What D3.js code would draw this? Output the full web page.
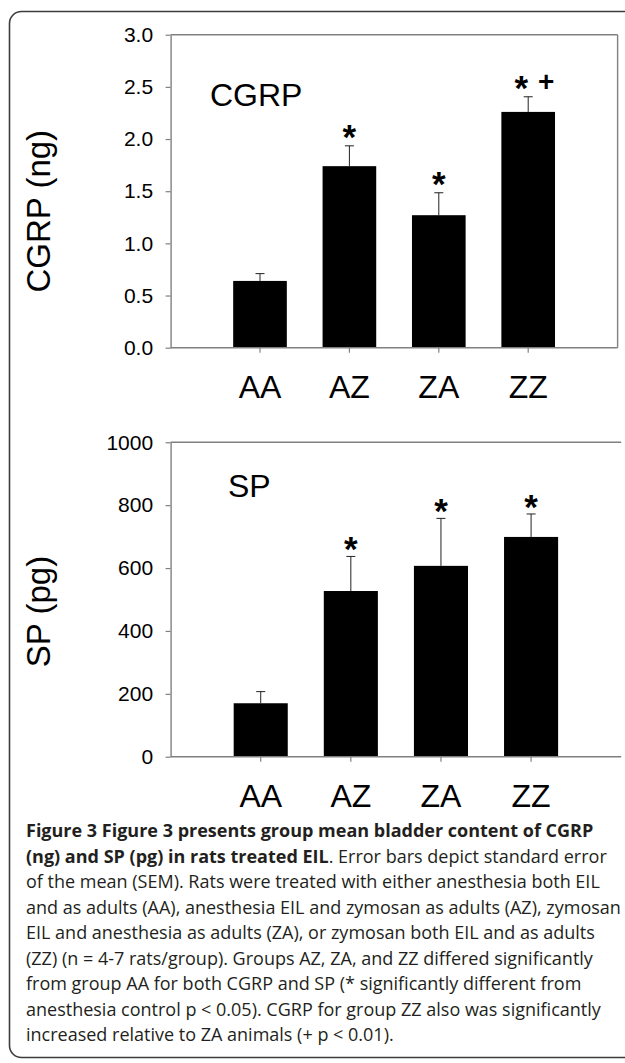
<!DOCTYPE html>
<html>
<head>
<meta charset="utf-8">
<script src="https://cdn.jsdelivr.net/npm/d3@7"></script>
<style>
  html, body { margin: 0; padding: 0; background: #fff; }
  svg { display: block; }
</style>
</head>
<body>
<svg id="chart" width="625" height="1063"></svg>
<script>
// ---------- data ----------
const groups = ["AA", "AZ", "ZA", "ZZ"];
const cgrpMean = [0.64, 1.74, 1.27, 2.26];
const cgrpSem = [0.07, 0.195, 0.215, 0.145];
const cgrpStar = [false, true, true, true];
const cgrpPlus = [false, false, false, true];
const cgrpTicks = [0, 0.5, 1.0, 1.5, 2.0, 2.5, 3.0];

const spMean = [170, 527, 607, 699];
const spSem = [37, 110, 151, 73];
const spStar = [false, true, true, true];
const spPlus = [false, false, false, false];
const spTicks = [0, 200, 400, 600, 800, 1000];

const captionLines = [
  [{t: "Figure 3 Figure 3 presents group mean bladder content of CGRP", b: true}],
  [{t: "(ng) and SP (pg) in rats treated EIL", b: true}, {t: ". Error bars depict standard error", b: false}],
  [{t: "of the mean (SEM). Rats were treated with either anesthesia both EIL", b: false}],
  [{t: "and as adults (AA), anesthesia EIL and zymosan as adults (AZ), zymosan", b: false}],
  [{t: "EIL and anesthesia as adults (ZA), or zymosan both EIL and as adults", b: false}],
  [{t: "(ZZ) (n = 4-7 rats/group). Groups AZ, ZA, and ZZ differed significantly", b: false}],
  [{t: "from group AA for both CGRP and SP (* significantly different from", b: false}],
  [{t: "anesthesia control p < 0.05). CGRP for group ZZ also was significantly", b: false}],
  [{t: "increased relative to ZA animals (+ p < 0.01).", b: false}]
];

// ---------- drawing ----------
const svg = d3.select("#chart");
const FONT = "'Liberation Sans', Arial, sans-serif";
const AXIS = "#808080";

// outer frame
svg.append("rect")
  .attr("x", 9.5).attr("y", 11.5)
  .attr("width", 660).attr("height", 1046)
  .attr("rx", 12).attr("ry", 12)
  .attr("fill", "none").attr("stroke", "#3c3c3c").attr("stroke-width", 1.6);

function panel(cfg) {
  const g = svg.append("g");
  const x = d3.scaleBand().domain(groups)
    .range([cfg.left, cfg.right]).paddingInner(0.4).paddingOuter(0.7);
  const y = d3.scaleLinear().domain(cfg.domain).range([cfg.bottom, cfg.top]);

  // borders
  g.append("line").attr("x1", cfg.left).attr("x2", cfg.right)
    .attr("y1", cfg.top).attr("y2", cfg.top)
    .attr("stroke", AXIS).attr("stroke-width", 1.4);
  if (cfg.rightBorder) {
    g.append("line").attr("x1", cfg.right).attr("x2", cfg.right)
      .attr("y1", cfg.top).attr("y2", cfg.bottom)
      .attr("stroke", AXIS).attr("stroke-width", 1.4);
  }

  // bars
  g.selectAll("rect.bar").data(groups).join("rect")
    .attr("class", "bar")
    .attr("x", d => x(d))
    .attr("width", x.bandwidth())
    .attr("y", (d, i) => y(cfg.mean[i]))
    .attr("height", (d, i) => y(0) - y(cfg.mean[i]))
    .attr("fill", "#000");

  // error bars (upper only)
  const cx = d => x(d) + x.bandwidth() / 2;
  g.selectAll("line.err").data(groups).join("line")
    .attr("class", "err")
    .attr("x1", cx).attr("x2", cx)
    .attr("y1", (d, i) => y(cfg.mean[i]))
    .attr("y2", (d, i) => y(cfg.mean[i] + cfg.sem[i]))
    .attr("stroke", "#222").attr("stroke-width", 1);
  g.selectAll("line.cap").data(groups).join("line")
    .attr("class", "cap")
    .attr("x1", d => cx(d) - 4.5).attr("x2", d => cx(d) + 4.5)
    .attr("y1", (d, i) => y(cfg.mean[i] + cfg.sem[i]))
    .attr("y2", (d, i) => y(cfg.mean[i] + cfg.sem[i]))
    .attr("stroke", "#222").attr("stroke-width", 1);

  // significance marks
  groups.forEach((d, i) => {
    const top = y(cfg.mean[i] + cfg.sem[i]);
    if (cfg.star[i]) {
      const sx = cfg.plus[i] ? cx(d) - 7 : cx(d);
      g.append("text").attr("x", sx).attr("y", top + cfg.starDy)
        .attr("text-anchor", "middle")
        .attr("font-family", FONT).attr("font-weight", "bold")
        .attr("font-size", 35).text("*");
    }
    if (cfg.plus[i]) {
      g.append("text").attr("x", cx(d) + 18).attr("y", top - 6)
        .attr("text-anchor", "middle")
        .attr("font-family", FONT).attr("font-weight", "bold")
        .attr("font-size", 28).text("+");
    }
  });

  // y axis
  const ya = g.append("g").attr("transform", `translate(${cfg.left},0)`)
    .call(d3.axisLeft(y).tickValues(cfg.ticks).tickFormat(cfg.fmt)
      .tickSize(5).tickSizeOuter(0).tickPadding(12.5));
  ya.select(".domain").attr("stroke", AXIS).attr("stroke-width", 1.4);
  ya.selectAll(".tick line").attr("stroke", AXIS).attr("stroke-width", 1.2);
  ya.selectAll(".tick text").attr("font-family", FONT).attr("font-size", 21).attr("fill", "#000");

  // x axis
  const xa = g.append("g").attr("transform", `translate(0,${cfg.bottom})`)
    .call(d3.axisBottom(x).tickSize(5).tickSizeOuter(0).tickPadding(23));
  xa.select(".domain").attr("stroke", AXIS).attr("stroke-width", 1.4)
    .attr("d", `M${cfg.left},0H${cfg.right}`);
  xa.selectAll(".tick line").attr("stroke", AXIS).attr("stroke-width", 1.2);
  xa.selectAll(".tick text").attr("font-family", FONT).attr("font-size", 32).attr("fill", "#000");

  // inner label
  g.append("text").attr("x", cfg.labelX).attr("y", cfg.labelY)
    .attr("font-family", FONT).attr("font-size", 32).text(cfg.label);

  // y title
  g.append("text")
    .attr("transform", `translate(50,${(cfg.top + cfg.bottom) / 2 + cfg.titleShift}) rotate(-90)`)
    .attr("text-anchor", "middle")
    .attr("font-family", FONT).attr("font-size", 33).text(cfg.title);
}

panel({
  left: 170.6, right: 617.6, top: 34.7, bottom: 347.7,
  domain: [0, 3], ticks: cgrpTicks, fmt: d3.format(".1f"),
  mean: cgrpMean, sem: cgrpSem, star: cgrpStar, plus: cgrpPlus,
  starDy: 3, rightBorder: true,
  label: "CGRP", labelX: 210, labelY: 106,
  title: "CGRP (ng)", titleShift: 20
});

panel({
  left: 170.6, right: 621.2, top: 442.3, bottom: 756.7,
  domain: [0, 1000], ticks: spTicks, fmt: d3.format("d"),
  mean: spMean, sem: spSem, star: spStar, plus: spPlus,
  starDy: 5, rightBorder: false,
  label: "SP", labelX: 228, labelY: 497,
  title: "SP (pg)", titleShift: 12
});

// ---------- caption ----------
const cap = svg.append("g");
const CAPFONT = "'Open Sans', 'Noto Sans', sans-serif";
const base = 20;
const texts = captionLines.map((line, li) => {
  const t = cap.append("text")
    .attr("x", 26).attr("y", 837 + li * 25.5)
    .attr("font-family", CAPFONT).attr("font-size", base).attr("fill", "#231f20");
  line.forEach(seg => {
    t.append("tspan").attr("font-weight", seg.b ? "bold" : "normal").text(seg.t);
  });
  return t;
});
const w = texts[3].node().getComputedTextLength();
const fs = base * 595 / w;
texts.forEach(t => t.attr("font-size", fs));
</script>
</body>
</html>
